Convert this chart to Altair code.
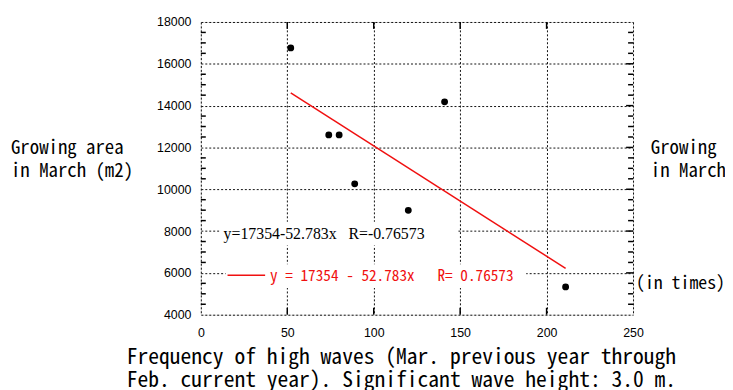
import altair as alt
import pandas as pd

# ---- data ----
freq = [52, 74, 80, 89, 120, 141, 211]
area = [16760, 12600, 12600, 10260, 8990, 14180, 5330]

# regression shown in the chart: y = 17354 - 52.783x, drawn over the data range
fit_a = 17354
fit_b = -52.783
fit_x = [52, 211]
fit_y = [fit_a + fit_b * v for v in fit_x]

x_ticks = [0, 50, 100, 150, 200, 250]
y_ticks = [4000, 6000, 8000, 10000, 12000, 14000, 16000, 18000]
y_minor = [v for v in range(4000, 18001, 500) if v not in y_ticks]
x_inner = [50, 100, 150, 200]

y_title = ["Growing area", "in March (m2)"]
x_title = ["Frequency of high waves (Mar. previous year through",
           "Feb. current year). Significant wave height: 3.0 m."]
unit_text = "(in times)"
eq_black = "y=17354-52.783x\u00a0\u00a0\u00a0R=-0.76573"
eq_red = "y = 17354 - 52.783x\u00a0\u00a0\u00a0R= 0.76573"

MONO = "Noto Sans Mono CJK JP, DejaVu Sans Mono, monospace"
RED = "#f01010"

pts = pd.DataFrame({"freq": freq, "area": area})
fit = pd.DataFrame({"freq": fit_x, "area": fit_y})
one = pd.DataFrame({"k": [0]})
ymin_df = pd.DataFrame({"v": y_minor})
ymaj_df = pd.DataFrame({"v": y_ticks[1:-1]})
xin_df = pd.DataFrame({"v": x_inner})

xs = alt.Scale(domain=[0, 250], nice=False, zero=False)
ys = alt.Scale(domain=[4000, 18000], nice=False, zero=False)

W, H = 437, 296

axes = alt.Chart(pts).mark_circle(size=48, color="black", opacity=0).encode(
    x=alt.X("freq:Q", scale=xs,
            axis=alt.Axis(values=x_ticks, format="d", grid=True, gridDash=[2, 2],
                          gridColor="#111", gridWidth=1, domain=False, ticks=False,
                          labelFont="Liberation Sans", labelFontSize=12.5, labelColor="black",
                          labelPadding=12, title=None, labelFlush=False)),
    y=alt.Y("area:Q", scale=ys,
            axis=alt.Axis(values=y_ticks, format="d", grid=True, gridDash=[2, 2],
                          gridColor="#111", gridWidth=1, domain=False, ticks=False,
                          labelFont="Liberation Sans", labelFontSize=12.5, labelColor="black",
                          labelPadding=10, title=None, labelFlush=False)),
)

points = alt.Chart(pts).mark_circle(size=48, color="black", opacity=1).encode(
    x=alt.X("freq:Q", scale=xs), y=alt.Y("area:Q", scale=ys))


def box(x1, x2, y1, y2):
    return alt.Chart(one).mark_rect(color="white", opacity=1).encode(
        x=alt.value(x1), x2=alt.value(x2), y=alt.value(y1), y2=alt.value(y2))


boxes = box(19, 260, 202, 226) + box(25, 329, 245, 269)

line = alt.Chart(fit).mark_line(color=RED, strokeWidth=1.5).encode(
    x=alt.X("freq:Q", scale=xs), y=alt.Y("area:Q", scale=ys))


def yt(df, x1, x2):
    return alt.Chart(df).mark_rule(color="black", strokeWidth=1.5).encode(
        y=alt.Y("v:Q", scale=ys), x=alt.value(x1), x2=alt.value(x2))


def xt(df, y1, y2):
    return alt.Chart(df).mark_rule(color="black", strokeWidth=1.5).encode(
        x=alt.X("v:Q", scale=xs), y=alt.value(y1), y2=alt.value(y2))


ticks = (yt(ymin_df, 0, 5) + yt(ymin_df, W, W - 5) + yt(ymaj_df, W, W - 7)
         + xt(xin_df, 0, 7) + xt(xin_df, H, H - 7))


def txt(s, x, y, size, font=MONO, color="black", baseline="alphabetic"):
    return alt.Chart(one).mark_text(
        align="left", baseline=baseline, font=font, fontSize=size, color=color,
        fontWeight="normal"
    ).encode(x=alt.value(x), y=alt.value(y), text=alt.value(s))


legend_line = alt.Chart(one).mark_rule(color=RED, strokeWidth=1.5).encode(
    x=alt.value(27), x2=alt.value(65), y=alt.value(256))

texts = (
    txt(y_title[0], -192, 134, 19) + txt(y_title[1], -192, 157, 19)
    + txt(y_title[0], 455, 134, 19) + txt(y_title[1], 455, 157, 19)
    + txt(unit_text, 440, 265, 18, baseline="middle")
    + txt(x_title[0], -75, 346, 21.8) + txt(x_title[1], -75, 369, 21.8)
    + txt(eq_black, 23, 214, 16, font="Liberation Serif", baseline="middle")
    + txt(eq_red, 70, 257, 15.4, color=RED, baseline="middle")
)

chart = alt.layer(axes, boxes, line, points, ticks, legend_line, texts).properties(
    width=W, height=H,
    padding={"left": 195, "top": 12, "right": 93, "bottom": 74},
    autosize=alt.AutoSizeParams(type="none"),
).configure_view(stroke="black", strokeWidth=2).configure(background="white")

chart.save("out.html", embed_options={"renderer": "svg", "actions": False})
